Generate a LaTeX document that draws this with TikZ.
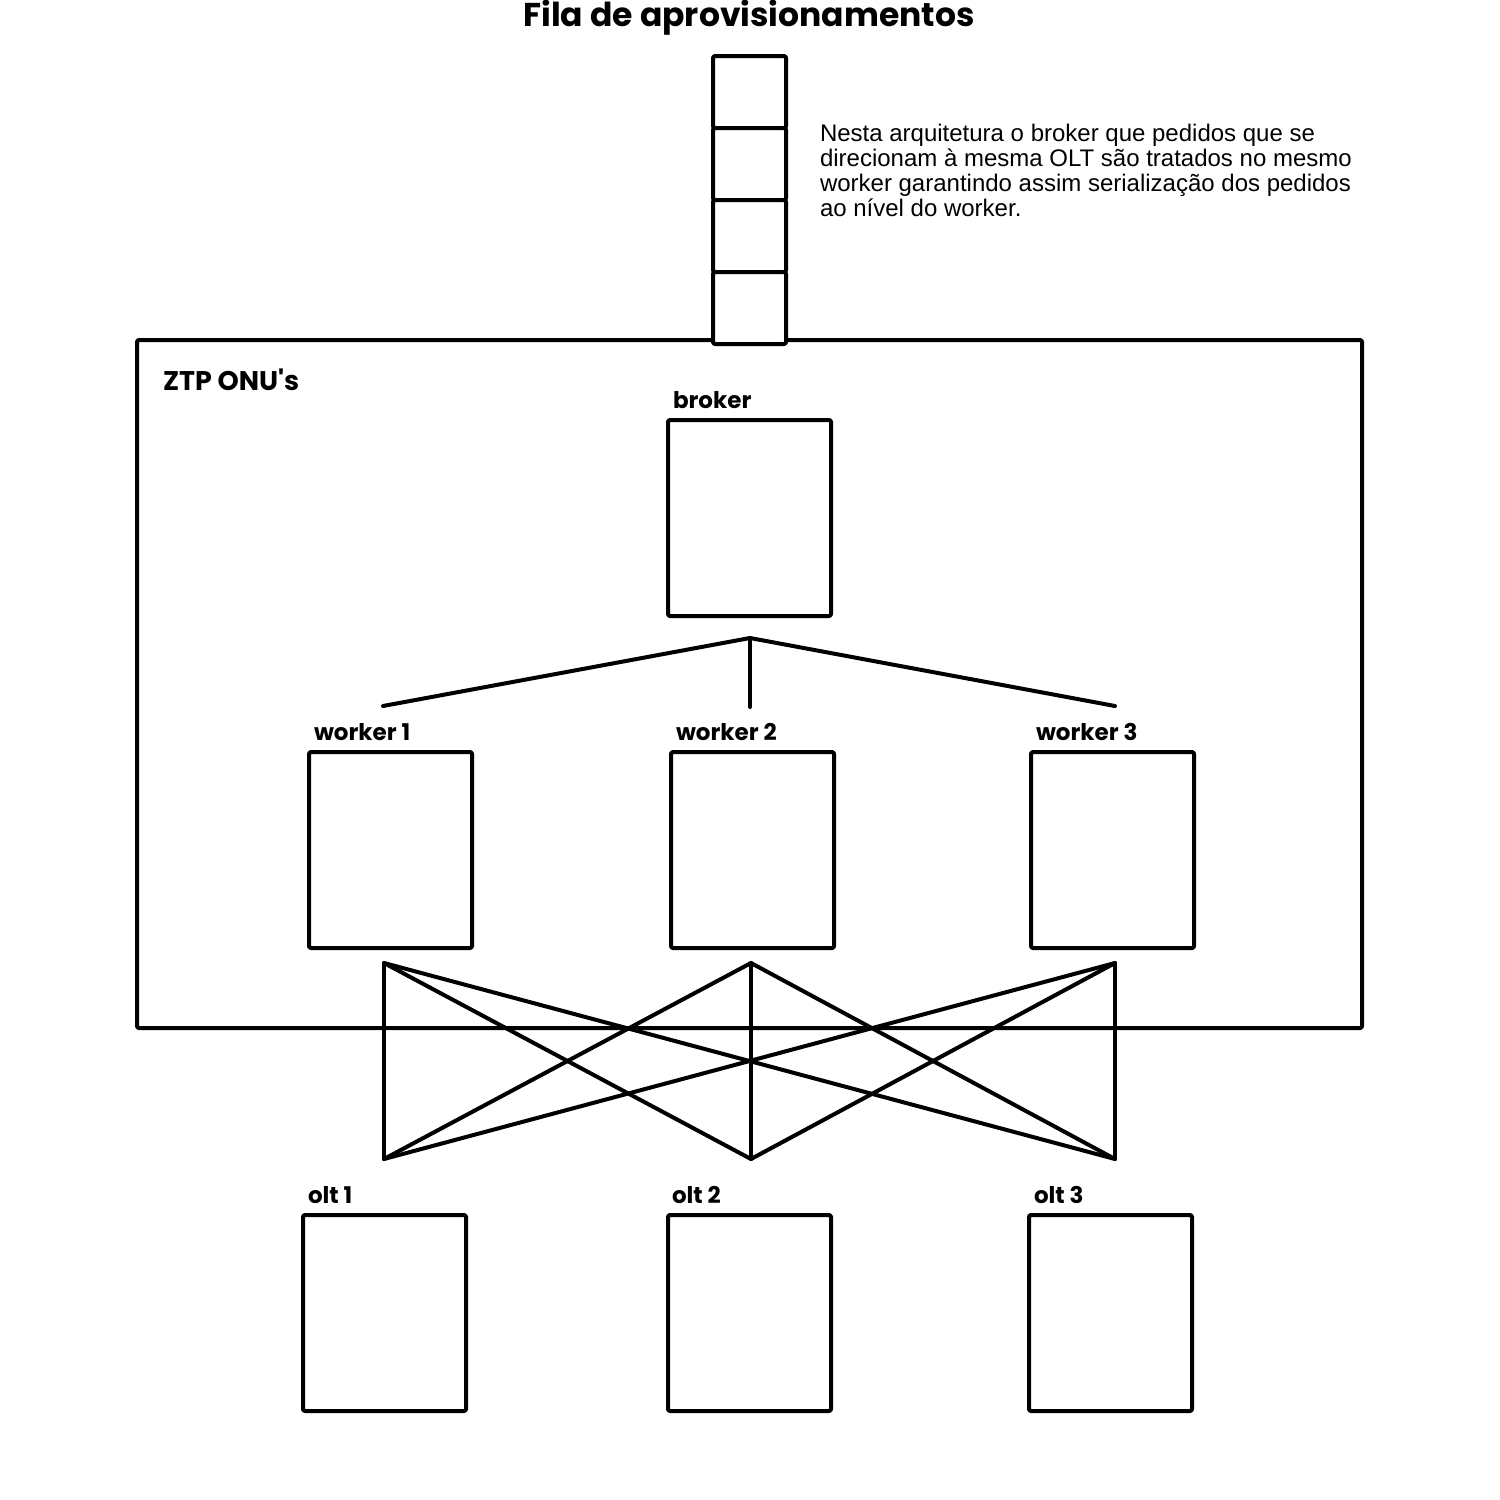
\documentclass[tikz,border=0pt]{standalone}
\usepackage{fontspec}
\setmainfont{Liberation Sans}
\newfontfamily\headfont{Poppins}
\usetikzlibrary{positioning}

\begin{document}
\begin{tikzpicture}[x=1pt,y=-1pt,line width=4pt,line cap=round,line join=round,
		box/.style={draw=black,rounded corners=2pt,inner sep=0pt,outer sep=0pt,minimum width=163pt,minimum height=196pt,anchor=north west},
		cell/.style={draw=black,rounded corners=2pt,inner sep=0pt,outer sep=0pt,minimum width=73pt,minimum height=72pt,anchor=north west},
		boxlabel/.style={inner sep=0pt,anchor=base west,font=\headfont\bfseries\fontsize{23}{26}\selectfont}]
		\useasboundingbox (0,0) rectangle (1500,1500);
		
		\node[inner sep=0pt,anchor=base,font=\headfont\bfseries\fontsize{33}{36}\selectfont] (title) at (749,26) {Fila de aprovisionamentos};
		
		% container
		\node[draw=black,rounded corners=2pt,inner sep=0pt,outer sep=0pt,minimum width=1225pt,minimum height=688pt,anchor=north west] (ztp) at (137,340) {};
		\node[inner sep=0pt,anchor=base west,font=\headfont\bfseries\fontsize{27}{30}\selectfont] (ztplabel) at (161,390) {ZTP ONU's};
		
		% queue
		\node[cell,fill=white] (q1) at (713,56) {};
		\node[cell,fill=white] (q2) at (q1.south west) {};
		\node[cell,fill=white] (q3) at (q2.south west) {};
		\node[cell,fill=white] (q4) at (q3.south west) {};
		
		\node[inner sep=0pt,anchor=north west,align=left,font=\fontsize{24}{25}\selectfont] (note) at (818,122) {Nesta arquitetura o broker que pedidos que se\\direcionam à mesma OLT são tratados no mesmo\\worker garantindo assim serialização dos pedidos\\ao nível do worker.};
		
		% broker
		\node[box] (broker) at (668,420) {};
		\node[boxlabel] (brokerlabel) at (671,408) {broker};
		
		% workers
		\node[box] (w1) at (309,752) {};
		\node[box] (w2) at (671,752) {};
		\node[box] (w3) at (1031,752) {};
		\node[boxlabel] (w1label) at (312,740) {worker 1};
		\node[boxlabel] (w2label) at (674,740) {worker 2};
		\node[boxlabel] (w3label) at (1034,740) {worker 3};
		
		% olts
		\node[box] (o1) at (303,1215) {};
		\node[box] (o2) at (668,1215) {};
		\node[box] (o3) at (1029,1215) {};
		\node[boxlabel] (o1label) at (306,1203) {olt 1};
		\node[boxlabel] (o2label) at (670,1203) {olt 2};
		\node[boxlabel] (o3label) at (1032,1203) {olt 3};
		
		% tree under broker
		\coordinate (root) at (750,638);
		\coordinate (b1) at (383,706);
		\coordinate (b2) at (750,707);
		\coordinate (b3) at (1115,706);
		\draw (root)--(b1);
		\draw (root)--(b2);
		\draw (root)--(b3);
		
		% workers to olts
		\coordinate (t1) at (384,963);
		\coordinate (t2) at (751,963);
		\coordinate (t3) at (1115,963);
		\coordinate (d1) at (384,1159);
		\coordinate (d2) at (751,1159);
		\coordinate (d3) at (1115,1159);
		\foreach \i in {1,2,3}{
			\foreach \j in {1,2,3}{
				\draw (t\i)--(d\j);
			}
		}
	\end{tikzpicture}
\end{document}
